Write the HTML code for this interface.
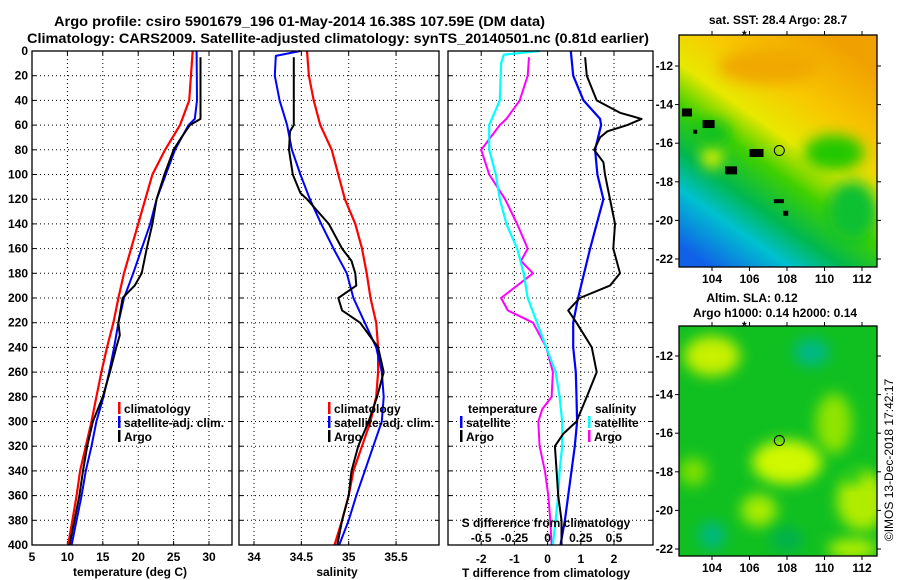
<!DOCTYPE html>
<html><head><meta charset="utf-8"><style>
body{margin:0;background:#fff}
svg{display:block;font-family:"Liberation Sans",sans-serif}
.t{font-size:12px;font-weight:bold;fill:#000}
.h{font-weight:bold;fill:#000;font-size:13.5px}
</style></head><body>
<svg id="c" width="900" height="580" viewBox="0 0 900 580">
<defs>
<filter id="bl" x="-50%" y="-50%" width="200%" height="200%"><feGaussianBlur stdDeviation="7"/></filter>
<linearGradient id="sst" x1="0.75" y1="0" x2="0.15" y2="1">
<stop offset="0" stop-color="#f0a000"/><stop offset="0.25" stop-color="#f8c800"/><stop offset="0.42" stop-color="#e8e800"/>
<stop offset="0.55" stop-color="#40d000"/><stop offset="0.7" stop-color="#00b850"/><stop offset="0.82" stop-color="#00c0d0"/><stop offset="1" stop-color="#1060e8"/>
</linearGradient>
<clipPath id="m1"><rect x="679" y="35" width="198" height="232"/></clipPath>
<clipPath id="m2"><rect x="679" y="326" width="198" height="230"/></clipPath>
</defs>
<text class="h" x="54" y="26" textLength="491" lengthAdjust="spacingAndGlyphs">Argo profile: csiro 5901679_196 01-May-2014 16.38S 107.59E (DM data)</text>
<text class="h" x="27" y="43" textLength="622" lengthAdjust="spacingAndGlyphs">Climatology: CARS2009. Satellite-adjusted climatology: synTS_20140501.nc (0.81d earlier)</text>
<g id="plots"></g>
<g id="maps"></g>
<text class="t" transform="translate(893,460) rotate(-90)" text-anchor="middle" style="font-weight:normal;font-size:12px">©IMOS 13-Dec-2018 17:42:17</text>
</svg>
<script>
const depthTicks=[0,20,40,60,80,100,120,140,160,180,200,220,240,260,280,300,320,340,360,380,400];
// Temperature panel
const tClimD=[0,40,60,80,100,120,140,160,180,200,220,240,260,280,300,320,340,360,380,400];
const tClimV=[27.7,27.2,25.9,23.8,22.0,21.0,20.0,19.0,18.0,17.2,16.5,15.6,14.8,14.1,13.4,12.6,11.8,11.3,10.7,10.1];
const tSatD=[0,40,55,60,80,100,120,140,160,180,200,220,240,260,280,300,320,340,360,380,400];
const tSatV=[28.25,28.3,28.0,27.1,25.2,23.9,22.6,21.7,20.5,19.3,18.0,17.2,16.6,15.9,15.1,14.1,13.4,12.6,12.0,11.3,10.6];
const tArgoD=[5,55,60,70,80,100,120,140,160,180,190,200,220,230,240,260,280,300,320,340,360,380,400];
const tArgoV=[28.8,28.8,27.3,26.1,25.0,23.7,22.6,22.0,21.2,20.5,19.5,17.8,17.2,17.4,16.9,16.0,15.0,13.6,12.8,12.2,11.7,11.0,10.3];
const tTicks=[5,10,15,20,25,30];
// Salinity panel
const sClimD=[0,20,40,60,80,100,120,140,160,180,200,220,240,260,280,300,320,340,360,380,400];
const sClimV=[34.56,34.58,34.63,34.70,34.82,34.89,34.96,35.07,35.14,35.19,35.23,35.29,35.31,35.31,35.29,35.23,35.14,35.05,35.00,34.93,34.85];
const sSatD=[0,4,20,40,60,80,100,120,140,160,180,200,220,240,260,280,300,320,340,360,380,400];
const sSatV=[34.49,34.23,34.22,34.27,34.35,34.40,34.49,34.59,34.71,34.84,34.98,35.05,35.17,35.29,35.35,35.37,35.35,35.26,35.17,35.08,35.00,34.90];
const sArgoD=[5,60,65,80,100,115,120,140,160,170,180,190,200,210,220,240,260,280,300,320,340,360,380,400];
const sArgoV=[34.42,34.42,34.38,34.37,34.41,34.49,34.56,34.79,34.93,35.03,35.07,35.08,34.89,34.93,35.12,35.31,35.37,35.30,35.21,35.10,35.03,35.00,34.93,34.88];
const sTicks=[34,34.5,35,35.5];
// Difference panel
const dTSatD=[0,20,40,55,60,80,100,120,140,160,180,200,220,240,260,280,300,320,340,360,380,400];
const dTSatV=[0.70,0.77,1.08,1.58,1.61,1.43,1.50,1.68,1.48,1.28,1.10,0.92,0.77,0.77,0.85,0.87,0.89,0.82,0.72,0.62,0.52,0.39];
const dTArgoD=[5,20,40,50,55,60,65,70,80,90,100,120,140,160,180,190,200,210,220,240,260,280,300,310,320,340,360,380,400];
const dTArgoV=[1.13,1.18,1.48,2.18,2.83,2.4,1.8,1.58,1.40,1.68,1.73,1.88,2.03,1.98,2.18,1.88,0.97,0.62,0.87,1.33,1.48,1.18,0.87,0.47,0.22,0.27,0.32,0.42,0.42];
const dSSatD=[0,3,10,40,60,80,100,120,140,160,180,200,220,240,260,280,300,320,340,360,380,400];
const dSSatV=[-0.06,-0.33,-0.35,-0.36,-0.44,-0.44,-0.39,-0.36,-0.31,-0.23,-0.18,-0.15,-0.08,-0.01,0.06,0.09,0.11,0.11,0.09,0.08,0.06,0.04];
const dSArgoD=[5,20,40,55,60,80,100,120,140,160,170,180,200,210,220,240,260,280,290,300,320,340,360,380,400];
const dSArgoV=[-0.14,-0.15,-0.21,-0.31,-0.36,-0.50,-0.44,-0.32,-0.23,-0.15,-0.2,-0.11,-0.35,-0.3,-0.11,-0.01,0.04,0.03,-0.04,-0.07,-0.06,-0.02,0.005,0.02,0.03];
const dTTicks=[-2,-1,0,1,2];
const dSTicks=[-0.5,-0.25,0,0.25,0.5];
const dSTickLabels=['-0.5','-0.25','0','0.25','0.5'];
// Map ticks
const lonTicks=[104,106,108,110,112];
const latTicks=[-12,-14,-16,-18,-20,-22];
const argoLon=107.59, argoLat=-16.38;

const NS='http://www.w3.org/2000/svg';
const plots=document.getElementById('plots'), maps=document.getElementById('maps');
function mk(tag,attrs,parent,txt){const e=document.createElementNS(NS,tag);for(const k in attrs)e.setAttribute(k,attrs[k]);if(txt!==undefined)e.textContent=txt;parent.appendChild(e);return e;}
const Y0=51,Y1=545;
const yD=d=>Y0+(Y1-Y0)*d/400;

function panel(name,x0,x1,v0,v1){
  const g=mk('g',{},plots);
  
  
  const sx=v=>x0+(x1-x0)*(v-v0)/(v1-v0);
  return {g,sx,x0,x1};
}
function grid(p,xt){
  depthTicks.forEach(d=>{ if(d>0&&d<400){const l=mk('line',{x1:p.x0,x2:p.x1,y1:yD(d),y2:yD(d),stroke:'#000','stroke-width':1,'stroke-dasharray':'1,3'},p.g);
    }
    mk('line',{x1:p.x0,x2:p.x0+4,y1:yD(d),y2:yD(d),stroke:'#000'},p.g);mk('line',{x1:p.x1,x2:p.x1-4,y1:yD(d),y2:yD(d),stroke:'#000'},p.g);});
  xt.forEach(v=>{const x=p.sx(v);if(x>p.x0+1&&x<p.x1-1){const l=mk('line',{x1:x,x2:x,y1:Y0,y2:Y1,stroke:'#000','stroke-dasharray':'1,3'},p.g);
    }
    mk('line',{x1:x,x2:x,y1:Y1,y2:Y1-4,stroke:'#000'},p.g);mk('line',{x1:x,x2:x,y1:Y0,y2:Y0+4,stroke:'#000'},p.g);});
}
function frame(p){const r=mk('rect',{x:p.x0,y:Y0,width:p.x1-p.x0,height:Y1-Y0,fill:'none',stroke:'#000','stroke-width':1.3},p.g);
  }
function line(p,D,V,col,w,name,scale){scale=scale||1;
  const pts=D.map((d,i)=>p.sx(V[i]*scale).toFixed(1)+','+yD(d).toFixed(1)).join(' ');
  const l=mk('polyline',{points:pts,fill:'none',stroke:col,'stroke-width':w,'stroke-linejoin':'round'},p.g);
  }
function txt(g,x,y,s,name,anchor,col){const t=mk('text',{x:x,y:y,class:'t','text-anchor':anchor||'start'},g,s);
  if(col)t.setAttribute('fill',col);return t;}
function legend(g,x,y,col,label,name){const r=mk('rect',{x:x,y:y-11,width:2.5,height:12,fill:col},g);
  
  txt(g,x+6,y,label,name);}

const LY=[413,427,441];
// Panel 1
const p1=panel('temperature-panel',32,232,5,5+200/7.08);
grid(p1,tTicks);
line(p1,tClimD,tClimV,'#f00',2.2,'temperature-climatology-line');
line(p1,tSatD,tSatV,'#00f',2,'temperature-satellite-line');
line(p1,tArgoD,tArgoV,'#000',2,'temperature-argo-line');
frame(p1);
depthTicks.forEach(d=>txt(p1.g,28,yD(d)+4,String(d),'depth-tick-label','end'));
tTicks.forEach(v=>txt(p1.g,p1.sx(v),561,String(v),'temperature-tick-label','middle'));
txt(p1.g,130,576,'temperature (deg C)','temperature-axis-title','middle');
legend(p1.g,118,LY[0],'#f00','climatology','legend-climatology');
legend(p1.g,118,LY[1],'#00f','satellite-adj. clim.','legend-satellite');
legend(p1.g,118,LY[2],'#000','Argo','legend-argo');

// Panel 2
const p2=panel('salinity-panel',239,439,34-15/94.7,34+185/94.7);
grid(p2,sTicks);
line(p2,sClimD,sClimV,'#f00',2.2,'salinity-climatology-line');
line(p2,sSatD,sSatV,'#00f',2,'salinity-satellite-line');
line(p2,sArgoD,sArgoV,'#000',2,'salinity-argo-line');
frame(p2);
sTicks.forEach(v=>txt(p2.g,p2.sx(v),561,String(v),'salinity-tick-label','middle'));
txt(p2.g,337,576,'salinity','salinity-axis-title','middle');
legend(p2.g,328,LY[0],'#f00','climatology','legend-climatology');
legend(p2.g,328,LY[1],'#00f','satellite-adj. clim.','legend-satellite');
legend(p2.g,328,LY[2],'#000','Argo','legend-argo');

// Panel 3
const p3=panel('difference-panel',448,653,-3.0,-3.0+205/33.2);
grid(p3,dTTicks);
line(p3,dSArgoD,dSArgoV,'#f0f',2,'salinity-argo-diff-line',4);
line(p3,dSSatD,dSSatV,'#0ff',2.2,'salinity-satellite-diff-line',4);
line(p3,dTSatD,dTSatV,'#00f',2.2,'temperature-satellite-diff-line');
line(p3,dTArgoD,dTArgoV,'#000',2,'temperature-argo-diff-line');
frame(p3);
dTTicks.forEach(v=>txt(p3.g,p3.sx(v),563,String(v),'t-diff-tick-label','middle'));
dSTicks.forEach((v,i)=>txt(p3.g,p3.sx(v*4),542,dSTickLabels[i],'s-diff-tick-label','middle'));
txt(p3.g,546,527,'S difference from climatology','s-diff-axis-title','middle');
txt(p3.g,546,577,'T difference from climatology','t-diff-axis-title','middle');
txt(p3.g,468,LY[0],'temperature','legend-temperature-heading');
txt(p3.g,595,LY[0],'salinity','legend-salinity-heading');
legend(p3.g,460,LY[1],'#00f','satellite','legend-t-satellite');
legend(p3.g,460,LY[2],'#000','Argo','legend-t-argo');
legend(p3.g,588,LY[1],'#0ff','satellite','legend-s-satellite');
legend(p3.g,588,LY[2],'#f0f','Argo','legend-s-argo');

// Maps
function mapAxes(g,top,bot,lat12y){
  const mx=lon=>712+(lon-104)*18.75, my=lat=>lat12y+(-12-lat)*19.3;
  const r=mk('rect',{x:679,y:top,width:198,height:bot-top,fill:'none',stroke:'#000','stroke-width':1.3},g);
  
  lonTicks.forEach(l=>{mk('line',{x1:mx(l),x2:mx(l),y1:bot,y2:bot+4,stroke:'#000'},g);mk('line',{x1:mx(l),x2:mx(l),y1:top,y2:top-4,stroke:'#000'},g);
    txt(g,mx(l),bot+16,String(l),'longitude-tick-label','middle');});
  latTicks.forEach(l=>{mk('line',{x1:679,x2:675,y1:my(l),y2:my(l),stroke:'#000'},g);mk('line',{x1:877,x2:881,y1:my(l),y2:my(l),stroke:'#000'},g);
    txt(g,673,my(l)+4,String(l),'latitude-tick-label','end');});
  const c=mk('circle',{cx:mx(argoLon),cy:my(argoLat),r:5,fill:'none',stroke:'#000','stroke-width':1},g);
  
  txt(g,742,top+4,'*','map-star');
  return {mx,my};
}
const g1=mk('g',{},maps);


const c1=mk('g',{'clip-path':'url(#m1)'},g1);
mk('rect',{x:679,y:35,width:198,height:232,fill:'url(#sst)'},c1);
const m1={mx:lon=>712+(lon-104)*18.75,my:lat=>66+(-12-lat)*19.3};
[[110.5,-16.5,30,18,'#20c800'],[111.5,-19.5,25,30,'#10c030'],[104,-16.7,10,12,'#e0f000'],[107,-12,50,18,'#f0a800'],[104,-15.5,18,12,'#10c020']].forEach(b=>
  mk('ellipse',{cx:m1.mx(b[0]),cy:m1.my(b[1]),rx:b[2],ry:b[3],fill:b[4],filter:'url(#bl)'},c1));
[[102.4,-14.2,10,8],[103.5,-14.8,12,8],[106,-16.3,14,8],[104.7,-17.2,12,8],[107.3,-18.9,10,4],[107.8,-19.5,5,5],[103,-15.3,4,4]].forEach(b=>
  mk('rect',{x:m1.mx(b[0]),y:m1.my(b[1]),width:b[2],height:b[3],fill:'#000'},c1));
mapAxes(g1,35,267,66);
txt(g1,778,24,'sat. SST: 28.4 Argo: 28.7','sst-map-title','middle');

const g2=mk('g',{},maps);


const c2=mk('g',{'clip-path':'url(#m2)'},g2);
mk('rect',{x:679,y:326,width:198,height:230,fill:'#10c020'},c2);
const m2={mx:lon=>712+(lon-104)*18.75,my:lat=>356+(-12-lat)*19.3};
[[104,-12,28,20,'#c8f000'],[108,-17.5,35,22,'#d0f800'],[106.5,-20,18,16,'#a8ec00'],[112,-19.5,25,30,'#b0ec00'],[110.5,-15.5,18,30,'#90e400'],[111.5,-22,25,10,'#b8f000'],[103,-18,14,14,'#80e000'],[109.3,-11.8,18,14,'#00b888'],[104,-21.3,14,14,'#00b880'],[108,-21.5,16,12,'#00b050'],[111.5,-18.2,8,8,'#00c020']].forEach(b=>
  mk('ellipse',{cx:m2.mx(b[0]),cy:m2.my(b[1]),rx:b[2],ry:b[3],fill:b[4],filter:'url(#bl)'},c2));
mapAxes(g2,326,556,356);
txt(g2,752,302,'Altim. SLA: 0.12','sla-map-title-1','middle');
txt(g2,775,317,'Argo h1000: 0.14 h2000: 0.14','sla-map-title-2','middle');
</script>
</body></html>
